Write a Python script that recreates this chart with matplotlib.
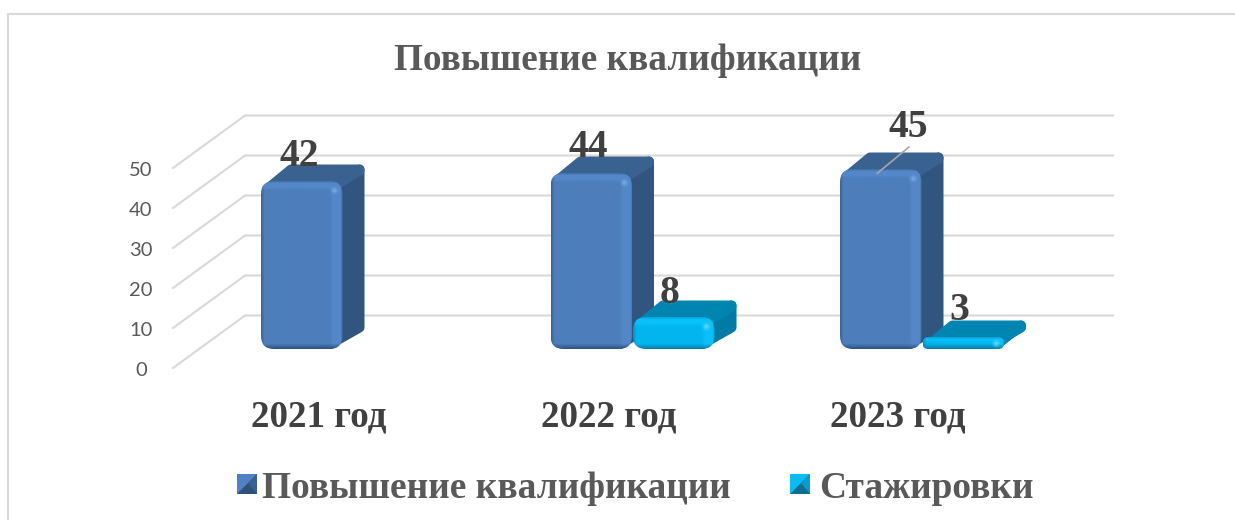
import numpy as np
import matplotlib
matplotlib.use("Agg")
import matplotlib.pyplot as plt
from matplotlib.patches import FancyBboxPatch, Polygon, Rectangle
from matplotlib.colors import to_rgb

# chart values
years = ["2021 год", "2022 год", "2023 год"]
series_names = ["Повышение квалификации", "Стажировки"]
povyshenie = [42, 44, 45]
stazhirovki = [None, 8, 3]
y_ticks = [0, 10, 20, 30, 40, 50]
title = "Повышение квалификации"

W, H = 1235, 520
SERIF = "Liberation Serif"

# scale: 1 category = 289.5 px, 1 unit of value = 4 px
PX = 1 / 289.5
PY = 1 / 4
X0 = 342.5     # pixel x of first category
Y0 = 349       # pixel y of value 0 on the front of the bars


def xp(px):
    return (px - X0) * PX


def yp(py):
    return (Y0 - py) * PY


fig = plt.figure(figsize=(W / 100, H / 100), dpi=100)
ax = fig.add_axes([0, 0, 1, 1])
ax.axis("off")

# outer frame of the chart
ax.plot([xp(8), xp(8), xp(1236)], [yp(521), yp(14), yp(14)], color="#d9d9d9", lw=1.5,
        solid_joinstyle="miter")

# walls and grid
grid_c = "#d9d9d9"
FRONT_X, BACK_X, RIGHT_X = xp(173), xp(245), xp(1113)
FRONT_DY = yp(368)   # value 0 at the front of the floor
BACK_DY = yp(315.5)
for v in y_ticks:
    ax.plot([FRONT_X, BACK_X, RIGHT_X], [v + FRONT_DY, v + BACK_DY, v + BACK_DY],
            color=grid_c, lw=1.5, solid_joinstyle="miter", zorder=1)
    ax.text(xp(141), v + yp(370.5), str(v), ha="center", va="center",
            fontsize=14.5, family="Lato", color="#595959")


def shade(w, h, face, edge, light, spot):
    # bevel of the front face, one pixel of the image per pixel of the figure
    ys, xs = np.mgrid[0:h, 0:w]
    face, edge, light, spot = [np.array(to_rgb(c)) for c in (face, edge, light, spot)]
    img = np.ones((h, w, 3)) * face
    band = min(9, h * 0.45)
    t = np.clip((band - ys) / 3, 0, 1)[..., None]
    img = img * (1 - t) + light * t
    t = np.clip((xs - (w - 14)) / 4, 0, 1)[..., None]
    img = img * (1 - t) + light * t
    t = np.clip((3 - xs) / 3, 0, 1)[..., None] * 0.6
    img = img * (1 - t) + edge * t
    t = np.clip((2 - ys) / 2, 0, 1)[..., None] * 0.4
    img = img * (1 - t) + edge * t
    t = np.clip((xs - (w - 3)) / 3, 0, 1)[..., None] * 0.7
    img = img * (1 - t) + edge * t
    t = np.clip((ys - (h - 6)) / 5, 0, 1)[..., None]
    img = img * (1 - t) + edge * t
    d2 = (xs - (w - 9)) ** 2 + (ys - min(9, h * 0.5)) ** 2
    t = np.exp(-d2 / 8)[..., None]
    img = img * (1 - t) + spot * t
    return img


def rounded_poly(points, r, color, z):
    # polygon inset by r and stroked with 2r, which rounds its corners
    pts = [(xp(x), yp(y)) for x, y in points]
    ax.add_patch(Polygon(pts, closed=True, fc=color, ec=color, lw=2 * r * 0.72,
                         joinstyle="round", zorder=z))


def bar3d(group, slot, value, face, edge, light, spot, top, side, width=81.5, ddx=22, ddy=16.5):
    left = X0 + group * 289.5 - width + slot * (width + 1)
    right = left + width
    y_top = Y0 - value / PY
    back = y_top - ddy
    z = 3 + group * 2 + slot
    r = 5

    # side and top faces
    rounded_poly([(right - 4, y_top + r), (right + ddx - r, back + r),
                  (right + ddx - r, Y0 - ddy - r), (right - 12, Y0 - r)], r, side, z)
    rounded_poly([(left + 10, y_top + r), (left + ddx + 8, back + r), (right + ddx - r, back + r),
                  (right + ddx - r, back + r + 1), (right - 8, y_top + r)], r, top, z + 0.1)

    # front face
    h = int(round(Y0 - y_top))
    rr = min(13, h * 0.48)
    box = FancyBboxPatch((xp(left + rr), yp(Y0 - rr)), (width - 2 * rr) * PX, (h - 2 * rr) * PY,
                         boxstyle=f"round,pad={rr * PX},rounding_size={rr * PX}",
                         mutation_aspect=PY / PX, fc="none", ec="none", zorder=z + 0.2)
    ax.add_patch(box)
    im = ax.imshow(shade(int(width), h, face, edge, light, spot), aspect="auto", origin="upper",
                   extent=(xp(left), xp(right), yp(Y0), yp(y_top)),
                   interpolation="bilinear", zorder=z + 0.3)
    im.set_clip_path(box)


blue = dict(face="#4d7ebb", edge="#2f5583", light="#5387c8", spot="#74a8e6", top="#3a6291", side="#31557f")
cyan = dict(face="#03b5ee", edge="#0a7fae", light="#09c1f8", spot="#5cd6fb", top="#0084b0", side="#007ba6")

for i, v in enumerate(povyshenie):
    bar3d(i, 0, v, **blue)
for i, v in enumerate(stazhirovki):
    if v is not None:
        bar3d(i, 1, v, **cyan)

ax.set_xlim(xp(0), xp(W))
ax.set_ylim(yp(H), yp(0))

# data labels, positioned relative to their bar tops
lab = dict(ha="center", va="baseline", family=SERIF, weight="bold", fontsize=28.5, color="#404040", zorder=20)
ax.text(xp(299), yp(166), str(povyshenie[0]), **lab)
ax.text(xp(588), yp(157), str(povyshenie[1]), **lab)
ax.text(xp(908), yp(137), str(povyshenie[2]), **lab)
ax.text(xp(670), yp(303), str(stazhirovki[1]), **lab)
ax.text(xp(959), yp(320), str(stazhirovki[2]), **lab)
# leader line of the 45 label
ax.plot([xp(877), xp(909)], [yp(173.5), yp(147)], color="#a6a6a6", lw=1.2, zorder=21)

# category labels
for i, yr in enumerate(years):
    ax.text(xp(319 + i * 289.5), yp(417), yr, ha="center", va="center", family=SERIF,
            weight="bold", fontsize=26.7, color="#404040")

ax.text(xp(628), yp(60), title, ha="center", va="center", family=SERIF, weight="bold",
        fontsize=26.8, color="#595959")


def legend_key(x, y, c1, c2, c3):
    s = 20
    ax.add_patch(Rectangle((xp(x), yp(y + s)), s * PX, s * PY, fc=c3, ec="none", zorder=5))
    ax.add_patch(Polygon([(xp(x), yp(y)), (xp(x + s), yp(y)), (xp(x), yp(y + s))],
                         fc=c1, ec="none", zorder=6))
    ax.add_patch(Polygon([(xp(x + s), yp(y)), (xp(x + s), yp(y + s)), (xp(x + s * 0.55), yp(y + s * 0.45))],
                         fc=c2, ec="none", zorder=6))


legend_key(237, 474, "#4f81c4", "#39618f", "#2f5078")
legend_key(790, 474, "#0abcf2", "#0a9bcb", "#0e6e92")
ax.text(xp(262), yp(488), series_names[0], ha="left", va="center", family=SERIF, weight="bold",
        fontsize=26.9, color="#595959")
ax.text(xp(819), yp(488), series_names[1], ha="left", va="center", family=SERIF, weight="bold",
        fontsize=26.9, color="#595959")

fig.savefig("out.png", dpi=100, facecolor="white")
